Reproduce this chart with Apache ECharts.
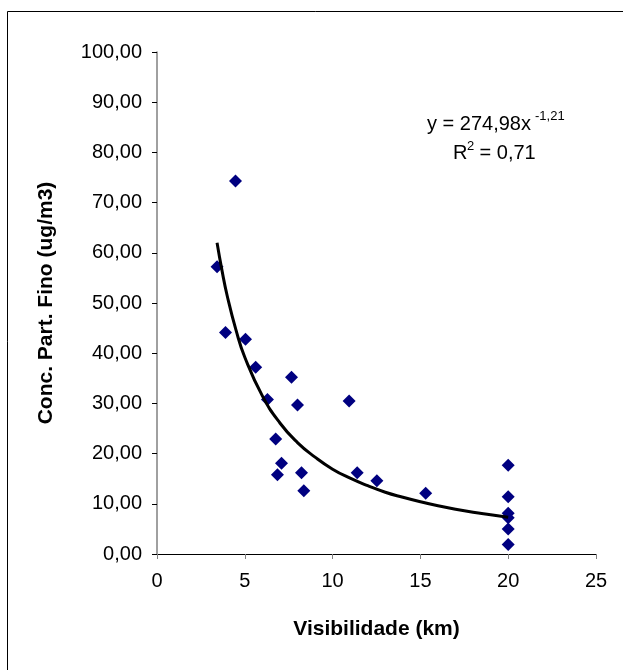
<!DOCTYPE html>
<html>
<head>
<meta charset="utf-8">
<script src="https://cdn.jsdelivr.net/npm/echarts@6/dist/echarts.min.js"></script>
<style>
html,body{margin:0;padding:0;background:#fff;}
#chart{width:623px;height:670px;}
</style>
</head>
<body>
<div id="chart"></div>
<script>
const visX = [3.42, 4.47, 3.90, 5.04, 5.62, 7.66, 6.29, 8.00, 10.94, 6.76, 7.09, 6.86, 8.23, 8.36, 11.40, 12.52, 15.30, 20, 20, 20, 20, 20, 20];
const concY = [57.2, 74.3, 44.1, 42.8, 37.2, 35.2, 30.8, 29.7, 30.5, 22.9, 18.1, 15.8, 16.2, 12.6, 16.2, 14.6, 12.1, 17.7, 11.4, 8.1, 7.2, 5.0, 1.9];

// Trend line points
const trendX = [3.42, 3.7, 4, 4.5, 5, 6, 7, 8, 9, 10, 11, 12, 13, 14, 15, 16, 17, 18, 19, 20];
const trendY = [62.0, 56.5, 51.4, 44.6, 39.2, 31.5, 26.1, 22.2, 19.3, 16.9, 15.1, 13.6, 12.3, 11.3, 10.4, 9.6, 8.9, 8.3, 7.8, 7.3];

// Axis ticks
const xTicks = [0, 5, 10, 15, 20, 25];
const yTicks = [0, 10, 20, 30, 40, 50, 60, 70, 80, 90, 100];

const xTitle = 'Visibilidade (km)';
const yTitle = 'Conc. Part. Fino (ug/m3)';
const eqMain = 'y = 274,98x';
const eqExp = '-1,21';
const r2Main = ['R', ' = 0,71'];
const r2Exp = '2';

const FONT = '"Liberation Sans", Arial, sans-serif';

const chart = echarts.init(document.getElementById('chart'), null, {renderer: 'canvas'});

const scatterData = visX.map((x, i) => [x, concY[i]]);
const trendData = trendX.map((x, i) => [x, trendY[i]]);

chart.setOption({
  backgroundColor: '#ffffff',
  animation: false,
  grid: {left: 157, top: 52, right: 27, bottom: 116, containLabel: false},
  xAxis: {
    type: 'value',
    min: xTicks[0], max: xTicks[xTicks.length - 1], interval: 5,
    name: xTitle, nameLocation: 'middle', nameGap: 65,
    nameTextStyle: {fontFamily: FONT, fontSize: 21, fontWeight: 'bold', color: '#000'},
    axisLine: {show: true, onZero: false, lineStyle: {color: '#000', width: 1}},
    axisTick: {show: true, inside: false, length: 5, lineStyle: {color: '#808080'}},
    axisLabel: {fontFamily: FONT, fontSize: 20, color: '#000', margin: 17},
    splitLine: {show: false}
  },
  yAxis: {
    type: 'value',
    min: yTicks[0], max: yTicks[yTicks.length - 1], interval: 10,
    name: yTitle, nameLocation: 'middle', nameGap: 100,
    nameTextStyle: {fontFamily: FONT, fontSize: 21, fontWeight: 'bold', color: '#000'},
    axisLine: {show: true, onZero: false, lineStyle: {color: '#808080', width: 1.5}},
    axisTick: {show: true, inside: false, length: 5, lineStyle: {color: '#000'}},
    axisLabel: {fontFamily: FONT, fontSize: 20, color: '#000', margin: 15,
      formatter: v => v.toFixed(2).replace('.', ',')},
    splitLine: {show: false}
  },
  series: [
    {
      type: 'scatter',
      data: scatterData,
      symbol: 'diamond',
      symbolSize: 13,
      itemStyle: {color: '#000080', opacity: 1},
      z: 3
    },
    {
      type: 'line',
      data: trendData,
      smooth: true,
      showSymbol: false,
      symbol: 'none',
      lineStyle: {color: '#000', width: 3},
      z: 4
    }
  ],
  graphic: [
    {type: 'rect', shape: {x: 7.5, y: 11.5, width: 700, height: 700},
      style: {fill: 'none', stroke: '#000', lineWidth: 1}, silent: true, z: -1},
    {type: 'text', x: 427, y: 124, style: {text: eqMain, font: '20px ' + FONT, fill: '#000', textVerticalAlign: 'middle', textAlign: 'left'}},
    {type: 'text', x: 535, y: 116, style: {text: eqExp, font: '13px ' + FONT, fill: '#000', textVerticalAlign: 'middle', textAlign: 'left'}},
    {type: 'text', x: 453, y: 153, style: {text: r2Main[0], font: '20px ' + FONT, fill: '#000', textVerticalAlign: 'middle', textAlign: 'left'}},
    {type: 'text', x: 467, y: 146, style: {text: r2Exp, font: '13px ' + FONT, fill: '#000', textVerticalAlign: 'middle', textAlign: 'left'}},
    {type: 'text', x: 474, y: 153, style: {text: r2Main[1], font: '20px ' + FONT, fill: '#000', textVerticalAlign: 'middle', textAlign: 'left'}}
  ]
});
</script>
</body>
</html>
